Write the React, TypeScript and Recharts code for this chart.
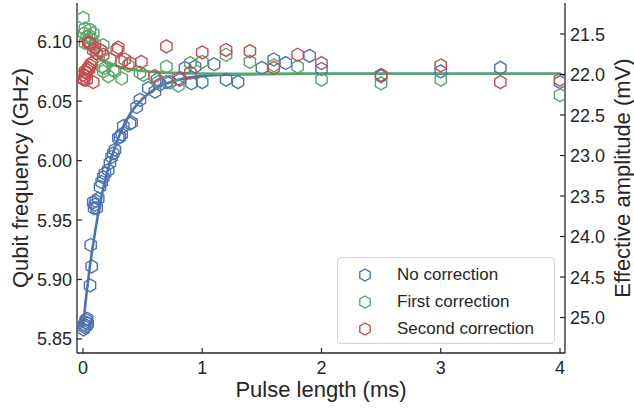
import React from 'react';
import { ComposedChart, Scatter, Line, XAxis, YAxis, Legend } from 'recharts';

// pulse length (ms) / qubit frequency (GHz)
const NO_CORR_X = [0.005, 0.01, 0.015, 0.02, 0.025, 0.03, 0.035, 0.04, 0.059, 0.065, 0.073, 0.086, 0.093, 0.1, 0.108, 0.115, 0.128, 0.143, 0.157, 0.17, 0.184, 0.212, 0.226, 0.24, 0.254, 0.268, 0.296, 0.31, 0.325, 0.338, 0.394, 0.408, 0.45, 0.478, 0.548, 0.604, 0.62, 0.646, 0.7, 0.73, 0.813, 0.855, 0.91, 0.94, 1.0, 1.1, 1.2, 1.3, 1.5, 1.6, 1.7, 1.9, 2.0, 2.5, 3.0, 3.5, 4.0];
const NO_CORR_Y = [5.858, 5.862, 5.86, 5.864, 5.866, 5.861, 5.867, 5.863, 5.895, 5.929, 5.911, 5.965, 5.96, 5.963, 5.966, 5.96, 5.968, 5.978, 5.982, 5.986, 5.989, 5.992, 5.998, 6.003, 6.006, 6.009, 6.019, 6.02, 6.022, 6.029, 6.031, 6.032, 6.045, 6.051, 6.061, 6.058, 6.068, 6.064, 6.066, 6.066, 6.068, 6.078, 6.065, 6.079, 6.066, 6.081, 6.068, 6.066, 6.078, 6.085, 6.082, 6.088, 6.077, 6.071, 6.075, 6.078, 6.066];

const FIRST_X = [0.003, 0.01, 0.017, 0.017, 0.031, 0.05, 0.059, 0.073, 0.086, 0.1, 0.157, 0.17, 0.157, 0.17, 0.184, 0.212, 0.226, 0.254, 0.268, 0.325, 0.38, 0.478, 0.506, 0.63, 0.7, 0.8, 0.9, 1.0, 1.2, 1.4, 1.6, 1.8, 2.0, 2.5, 3.0, 4.0];
const FIRST_Y = [6.12, 6.107, 6.111, 6.099, 6.104, 6.105, 6.11, 6.102, 6.107, 6.098, 6.092, 6.097, 6.079, 6.075, 6.078, 6.071, 6.085, 6.076, 6.075, 6.069, 6.08, 6.074, 6.072, 6.066, 6.079, 6.063, 6.082, 6.083, 6.089, 6.083, 6.08, 6.079, 6.068, 6.065, 6.068, 6.055];

const SECOND_X = [0.0, 0.005, 0.01, 0.017, 0.02, 0.025, 0.031, 0.035, 0.045, 0.05, 0.059, 0.073, 0.086, 0.045, 0.059, 0.086, 0.1, 0.115, 0.143, 0.17, 0.283, 0.296, 0.325, 0.35, 0.394, 0.49, 0.6, 0.7, 0.8, 0.9, 1.0, 1.2, 1.4, 1.6, 1.8, 2.0, 2.5, 3.0, 3.5, 4.0];
const SECOND_Y = [6.072, 6.069, 6.068, 6.075, 6.071, 6.074, 6.068, 6.076, 6.078, 6.077, 6.08, 6.082, 6.066, 6.099, 6.099, 6.093, 6.095, 6.09, 6.093, 6.089, 6.093, 6.095, 6.083, 6.085, 6.082, 6.083, 6.071, 6.096, 6.069, 6.074, 6.091, 6.093, 6.092, 6.078, 6.089, 6.082, 6.072, 6.08, 6.066, 6.068];

// fitted curves, sampled from the figure
const FIT_X = [0, 0.025, 0.05, 0.1, 0.15, 0.2, 0.3, 0.4, 0.5, 0.6, 0.8, 1.0, 1.3, 2.0, 4.0];
const NO_CORR_FIT = [5.86, 5.884, 5.905, 5.939, 5.967, 5.989, 6.02, 6.04, 6.052, 6.06, 6.068, 6.071, 6.0725, 6.073, 6.073];
const FIRST_FIT = [6.099, 6.096, 6.0936, 6.0891, 6.0857, 6.0829, 6.0791, 6.0767, 6.0753, 6.0744, 6.0735, 6.0732, 6.073, 6.073, 6.073];

const X_TICKS = [0, 1, 2, 3, 4];
const FREQ_TICKS = [5.85, 5.9, 5.95, 6.0, 6.05, 6.1];
const AMP_TICKS = [21.5, 22.0, 22.5, 23.0, 23.5, 24.0, 24.5, 25.0];

const SERIES = [
  { name: 'No correction', color: '#4c72b0', xs: NO_CORR_X, ys: NO_CORR_Y },
  { name: 'First correction', color: '#55a868', xs: FIRST_X, ys: FIRST_Y },
  { name: 'Second correction', color: '#c44e52', xs: SECOND_X, ys: SECOND_Y },
];

const toPoints = (xs: number[], ys: number[]) => xs.map((x, i) => ({ x, y: ys[i] }));

const INK = '#262626';
const FONT = '"Liberation Sans", Arial, sans-serif';
const TICK_FONT = 18;
const TITLE_FONT = 22;

const Hexagon = ({ cx, cy, color, r = 6.5 }: { cx: number; cy: number; color: string; r?: number }) => {
  const pts = [0, 1, 2, 3, 4, 5]
    .map((k) => {
      const a = (Math.PI / 3) * k - Math.PI / 2;
      return `${cx + r * Math.cos(a)},${cy + r * Math.sin(a)}`;
    })
    .join(' ');
  return <polygon points={pts} fill="none" stroke={color} strokeWidth={1.4} />;
};

const LeftTick = ({ x, y, payload }: any) => (
  <g>
    <line x1={x} x2={x + 5} y1={y} y2={y} stroke={INK} strokeWidth={1.2} />
    <text x={x - 5} y={y} dy="0.36em" textAnchor="end" fontSize={TICK_FONT} fill={INK} fontFamily={FONT}>
      {payload.value.toFixed(2)}
    </text>
  </g>
);

const RightTick = ({ x, y, payload }: any) => (
  <g>
    <line x1={x} x2={x - 5} y1={y} y2={y} stroke={INK} strokeWidth={1.2} />
    <text x={x + 5} y={y} dy="0.36em" textAnchor="start" fontSize={TICK_FONT} fill={INK} fontFamily={FONT}>
      {payload.value.toFixed(1)}
    </text>
  </g>
);

const BottomTick = ({ x, y, payload }: any) => (
  <g>
    <line x1={x} x2={x} y1={y} y2={y - 5} stroke={INK} strokeWidth={1.2} />
    <text x={x} y={y + 21} textAnchor="middle" fontSize={TICK_FONT} fill={INK} fontFamily={FONT}>
      {payload.value}
    </text>
  </g>
);

const TopTick = ({ x, y }: any) => (
  <line x1={x} x2={x} y1={y} y2={y + 5} stroke={INK} strokeWidth={1.2} />
);

const VerticalTitle = ({ viewBox, value, dx }: any) => {
  const cx = viewBox.x + dx;
  const cy = viewBox.y + viewBox.height / 2;
  return (
    <text x={cx} y={cy} transform={`rotate(-90 ${cx} ${cy})`} textAnchor="middle" dominantBaseline="central"
      fontSize={TITLE_FONT} fill={INK} fontFamily={FONT}>
      {value}
    </text>
  );
};

const LegendBox = () => (
  <div style={{
    width: 218, height: 87, boxSizing: 'border-box', border: '1px solid #d4d4d4', borderRadius: 4,
    background: 'rgba(255,255,255,0.85)', fontFamily: FONT, fontSize: 17, color: INK, paddingTop: 3,
  }}>
    {SERIES.map((s) => (
      <div key={s.name} style={{ display: 'flex', alignItems: 'center', height: 27 }}>
        <svg width={59} height={20} style={{ flex: 'none' }}>
          <Hexagon cx={27} cy={10} color={s.color} r={6} />
        </svg>
        <span>{s.name}</span>
      </div>
    ))}
  </div>
);

export default function App() {
  return (
    <div style={{ position: 'absolute', left: 0, top: 0, width: 634, height: 411, background: '#fff' }}>
      <ComposedChart width={634} height={411} margin={{ top: 3, right: 0, bottom: 0, left: 0 }}>
        <XAxis xAxisId="bottom" type="number" dataKey="x" domain={[-0.05, 4.042]} ticks={X_TICKS} interval={0}
          allowDataOverflow height={58} tickSize={0} tickMargin={0} tick={<BottomTick />}
          axisLine={{ stroke: INK, strokeWidth: 1.3 }} tickLine={false}
          label={{ value: 'Pulse length (ms)', position: 'insideBottom', offset: 14, fontSize: TITLE_FONT, fill: INK, fontFamily: FONT }} />
        <XAxis xAxisId="top" orientation="top" type="number" dataKey="x" domain={[-0.05, 4.042]} ticks={X_TICKS}
          interval={0} allowDataOverflow height={0} tickSize={0} tickMargin={0} tick={<TopTick />}
          axisLine={{ stroke: INK, strokeWidth: 1.3 }} tickLine={false} />
        <YAxis yAxisId="freq" type="number" dataKey="y" domain={[5.8382, 6.1325]} ticks={FREQ_TICKS} interval={0}
          allowDataOverflow width={77} tickSize={0} tickMargin={0} tick={<LeftTick />}
          axisLine={{ stroke: INK, strokeWidth: 1.3 }} tickLine={false}
          label={{ value: 'Qubit frequency (GHz)', content: <VerticalTitle dx={20} /> }} />
        <YAxis yAxisId="amp" orientation="right" type="number" dataKey="y" domain={[21.117, 25.438]} reversed
          ticks={AMP_TICKS} interval={0} allowDataOverflow width={69} tickSize={0} tickMargin={0} tick={<RightTick />}
          axisLine={{ stroke: INK, strokeWidth: 1.3 }} tickLine={false}
          label={{ value: 'Effective amplitude (mV)', content: <VerticalTitle dx={57} /> }} />

        <Scatter xAxisId="top" yAxisId="amp" data={[]} isAnimationActive={false} legendType="none" />

        {SERIES.map((s) => (
          <Scatter key={s.name} name={s.name} xAxisId="bottom" yAxisId="freq" data={toPoints(s.xs, s.ys)}
            isAnimationActive={false}
            shape={(p: any) => <Hexagon cx={p.cx} cy={p.cy} color={s.color} />} />
        ))}

        <Line xAxisId="bottom" yAxisId="freq" data={toPoints(FIT_X, NO_CORR_FIT)} dataKey="y" type="monotone"
          stroke="#4c72b0" strokeWidth={2.6} dot={false} activeDot={false} isAnimationActive={false} legendType="none" />
        <Line xAxisId="bottom" yAxisId="freq" data={toPoints(FIT_X, FIRST_FIT)} dataKey="y" type="monotone"
          stroke="#55a868" strokeWidth={2.6} dot={false} activeDot={false} isAnimationActive={false} legendType="none" />

        <Legend content={<LegendBox />} layout="horizontal" verticalAlign="middle" align="center"
          wrapperStyle={{ left: 337, top: 257, width: 218, bottom: 'auto', right: 'auto' }} />
      </ComposedChart>
    </div>
  );
}
